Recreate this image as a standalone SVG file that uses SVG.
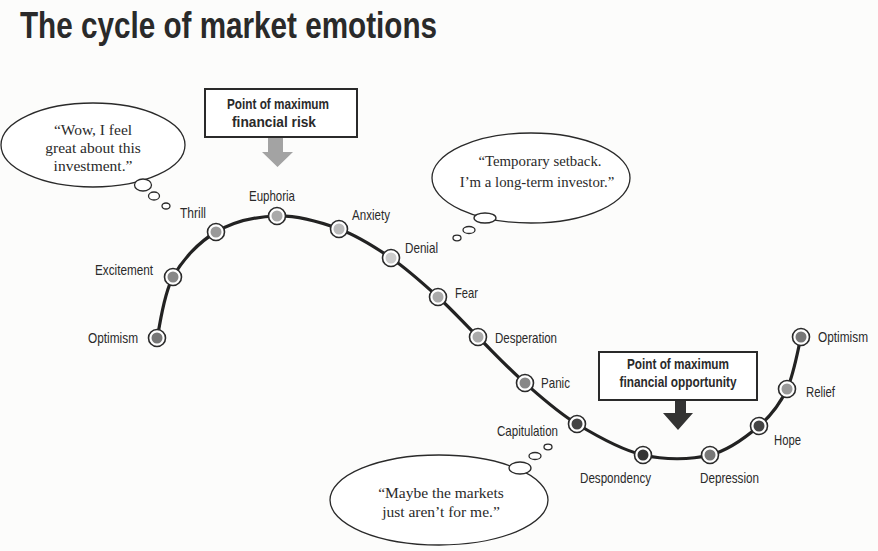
<svg xmlns="http://www.w3.org/2000/svg" width="878" height="551" viewBox="0 0 878 551">
<style>
.title{font-family:"Liberation Sans Narrow","Liberation Sans",Arial,sans-serif;font-weight:bold;font-size:36px;fill:#2a2a2a}
.lbl{font-family:"Liberation Sans Narrow","Liberation Sans",Arial,sans-serif;font-size:14.5px;fill:#2a2a2a}
.box{fill:#fff;stroke:#2a2a2a;stroke-width:2}
.boxt{font-family:"Liberation Sans Narrow","Liberation Sans",Arial,sans-serif;font-weight:bold;font-size:15px;fill:#2a2a2a;text-anchor:middle}
.bub{fill:#fff;stroke:#2a2a2a;stroke-width:1.3}
.say{font-family:"Liberation Serif","Times New Roman",serif;font-size:15.5px;fill:#2a2a2a;text-anchor:middle}
.say2{font-family:"Liberation Serif","Times New Roman",serif;font-size:14.8px;fill:#2a2a2a;text-anchor:middle}
.ring{fill:#fff;stroke:#2a2a2a;stroke-width:1.6}
.curve{fill:none;stroke:#222;stroke-width:3.2}
</style>
<rect width="878" height="551" fill="#fcfcfb"/>
<text class="title" x="20" y="38" textLength="417" lengthAdjust="spacingAndGlyphs">The cycle of market emotions</text>

<g id="connectors">
<path class="curve" d="M157,338 C159.7,327.8 163.2,294.7 173,277 C182.8,259.3 198.7,242.2 216,232 C233.3,221.8 256.5,216.5 277,216 C297.5,215.5 320,222 339,229 C358,236 374.5,246.7 391,258 C407.5,269.3 423.5,283.8 438,297 C452.5,310.2 463.5,322.7 478,337 C492.5,351.3 508.5,368.5 525,383 C541.5,397.5 557.3,412 577,424 C596.7,436 620.8,449.8 643,455 C665.2,460.2 690.7,459.8 710,455 C729.3,450.2 746.2,437 759,426 C771.8,415 780,403.8 787,389 C794,374.2 798.7,345.7 801,337"/>
<path id="arrow-risk" d="M268,138 H283 V152 H293 L277.5,167 L262,152 H268 Z" fill="#a3a3a3"/>
<path id="arrow-opp" d="M675,400 H686 V413 H693 L678,430 L663,413 H675 Z" fill="#333"/>
</g>

<g id="box-risk">
<rect class="box" x="205" y="89" width="152" height="48"/>
<text class="boxt" x="278" y="109" textLength="102" lengthAdjust="spacingAndGlyphs">Point of maximum</text>
<text class="boxt" x="274" y="127" textLength="84" lengthAdjust="spacingAndGlyphs">financial risk</text>
</g>
<g id="box-opportunity">
<rect class="box" x="599" y="352" width="158" height="48"/>
<text class="boxt" x="678" y="369" textLength="102" lengthAdjust="spacingAndGlyphs">Point of maximum</text>
<text class="boxt" x="678" y="387" textLength="117" lengthAdjust="spacingAndGlyphs">financial opportunity</text>
</g>

<g id="bubble-wow">
<ellipse class="bub" cx="93" cy="145" rx="92" ry="42"/>
<ellipse class="bub" cx="143" cy="185" rx="8.5" ry="6"/>
<ellipse class="bub" cx="154" cy="196" rx="5.5" ry="4"/>
<ellipse class="bub" cx="166" cy="206" rx="4" ry="3"/>
<text class="say" x="93" y="135">“Wow, I feel</text>
<text class="say" x="93" y="153">great about this</text>
<text class="say" x="93" y="171">investment.”</text>
</g>
<g id="bubble-temporary">
<ellipse class="bub" cx="531" cy="178" rx="99" ry="45"/>
<ellipse class="bub" cx="485" cy="218" rx="11" ry="5"/>
<ellipse class="bub" cx="469" cy="230" rx="6" ry="3.5"/>
<ellipse class="bub" cx="457" cy="238" rx="4" ry="2.8"/>
<text class="say2" x="540" y="166">“Temporary setback.</text>
<text class="say2" x="537" y="187">I’m a long-term investor.”</text>
</g>
<g id="bubble-maybe">
<ellipse class="bub" cx="439" cy="500" rx="109" ry="45"/>
<ellipse class="bub" cx="520" cy="468" rx="11" ry="6"/>
<ellipse class="bub" cx="535" cy="456" rx="6" ry="3.5"/>
<ellipse class="bub" cx="548" cy="447" rx="4" ry="2.8"/>
<text class="say" x="441" y="498">“Maybe the markets</text>
<text class="say" x="441" y="517">just aren’t for me.”</text>
</g>

<g id="n-optimism-1"><circle class="ring" cx="157" cy="338" r="8.5"/><circle cx="157" cy="338" r="5.5" fill="#777"/><text class="lbl" x="88" y="343" textLength="50" lengthAdjust="spacingAndGlyphs">Optimism</text></g>
<g id="n-excitement"><circle class="ring" cx="173" cy="277" r="8.5"/><circle cx="173" cy="277" r="5.5" fill="#888"/><text class="lbl" x="95" y="275" textLength="58" lengthAdjust="spacingAndGlyphs">Excitement</text></g>
<g id="n-thrill"><circle class="ring" cx="216" cy="232" r="8.5"/><circle cx="216" cy="232" r="5.5" fill="#999"/><text class="lbl" x="180" y="218" textLength="26" lengthAdjust="spacingAndGlyphs">Thrill</text></g>
<g id="n-euphoria"><circle class="ring" cx="277" cy="216" r="8.5"/><circle cx="277" cy="216" r="5.5" fill="#aaa"/><text class="lbl" x="249" y="201" textLength="46" lengthAdjust="spacingAndGlyphs">Euphoria</text></g>
<g id="n-anxiety"><circle class="ring" cx="339" cy="229" r="8.5"/><circle cx="339" cy="229" r="5.5" fill="#bbb"/><text class="lbl" x="352" y="220" textLength="38" lengthAdjust="spacingAndGlyphs">Anxiety</text></g>
<g id="n-denial"><circle class="ring" cx="391" cy="258" r="8.5"/><circle cx="391" cy="258" r="5.5" fill="#ccc"/><text class="lbl" x="405" y="253" textLength="33" lengthAdjust="spacingAndGlyphs">Denial</text></g>
<g id="n-fear"><circle class="ring" cx="438" cy="297" r="8.5"/><circle cx="438" cy="297" r="5.5" fill="#aaa"/><text class="lbl" x="455" y="298" textLength="23" lengthAdjust="spacingAndGlyphs">Fear</text></g>
<g id="n-desperation"><circle class="ring" cx="478" cy="337" r="8.5"/><circle cx="478" cy="337" r="5.5" fill="#aaa"/><text class="lbl" x="495" y="343" textLength="62" lengthAdjust="spacingAndGlyphs">Desperation</text></g>
<g id="n-panic"><circle class="ring" cx="525" cy="383" r="8.5"/><circle cx="525" cy="383" r="5.5" fill="#888"/><text class="lbl" x="541" y="388" textLength="29" lengthAdjust="spacingAndGlyphs">Panic</text></g>
<g id="n-capitulation"><circle class="ring" cx="577" cy="424" r="8.5"/><circle cx="577" cy="424" r="5.5" fill="#444"/><text class="lbl" x="497" y="436" textLength="61" lengthAdjust="spacingAndGlyphs">Capitulation</text></g>
<g id="n-despondency"><circle class="ring" cx="643" cy="455" r="8.5"/><circle cx="643" cy="455" r="5.5" fill="#333"/><text class="lbl" x="580" y="483" textLength="71" lengthAdjust="spacingAndGlyphs">Despondency</text></g>
<g id="n-depression"><circle class="ring" cx="710" cy="455" r="8.5"/><circle cx="710" cy="455" r="5.5" fill="#777"/><text class="lbl" x="700" y="483" textLength="59" lengthAdjust="spacingAndGlyphs">Depression</text></g>
<g id="n-hope"><circle class="ring" cx="759" cy="426" r="8.5"/><circle cx="759" cy="426" r="5.5" fill="#444"/><text class="lbl" x="774" y="445" textLength="27" lengthAdjust="spacingAndGlyphs">Hope</text></g>
<g id="n-relief"><circle class="ring" cx="787" cy="389" r="8.5"/><circle cx="787" cy="389" r="5.5" fill="#999"/><text class="lbl" x="806" y="397" textLength="29" lengthAdjust="spacingAndGlyphs">Relief</text></g>
<g id="n-optimism-2"><circle class="ring" cx="801" cy="337" r="8.5"/><circle cx="801" cy="337" r="5.5" fill="#777"/><text class="lbl" x="818" y="342" textLength="50" lengthAdjust="spacingAndGlyphs">Optimism</text></g>
</svg>
